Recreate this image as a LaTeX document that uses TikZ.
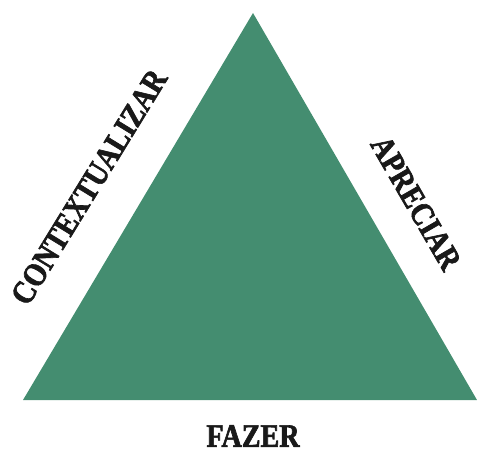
\documentclass[tikz,border=0pt]{standalone}
\usepackage{fontspec}
\newfontfamily\labfont[FakeStretch=0.86,FakeBold=2]{Liberation Serif}
\definecolor{triverde}{HTML}{448D70}
\usetikzlibrary{positioning}

\begin{document}
\begin{tikzpicture}[x=0.75pt, y=-0.75pt,
    lado/.style={font=\labfont\bfseries\fontsize{24.5}{26}\selectfont, inner sep=0pt, text=black!90}]
  \useasboundingbox (0,0) rectangle (477,449);
  % triangulo
  \coordinate (topo) at (253,13);
  \coordinate (esq) at (23,400);
  \coordinate (dir) at (477,400);
  \fill[triverde] (esq) -- (topo) -- (dir) -- cycle;
  % rotulos dos lados
  \node[lado, rotate=58.5] (contexto) at (89,187) {CONTEXTUALIZAR};
  \node[lado, rotate=-60] (apreciar) at (416,203) {APRECIAR};
  \node[lado] (fazer) at (253,436) {FAZER};
\end{tikzpicture}
\end{document}
